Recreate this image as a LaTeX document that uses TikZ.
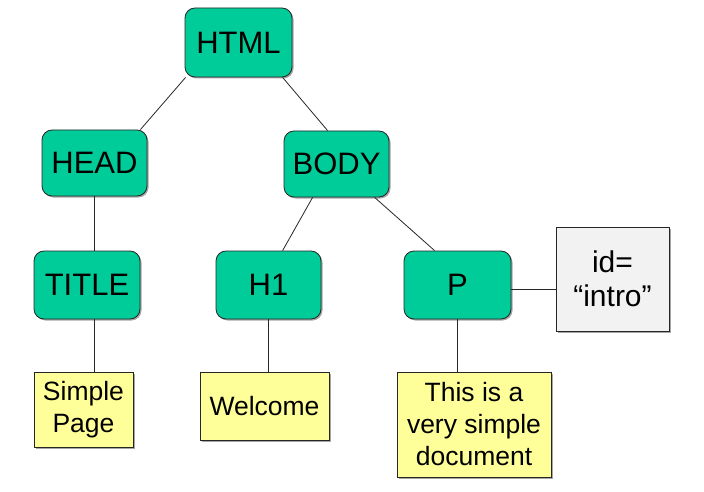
\documentclass[tikz,border=0pt]{standalone}
\usepackage{fontspec}
\setmainfont{Liberation Sans}
\usetikzlibrary{calc,shadows}
\definecolor{nodegreen}{HTML}{00CC99}
\definecolor{noteyellow}{HTML}{FFFF99}
\definecolor{attrgray}{HTML}{F2F2F2}
\begin{document}
\begin{tikzpicture}[x=1pt,y=-1pt,
  shadowed/.style={drop shadow={shadow xshift=1.5pt,shadow yshift=-1.5pt,fill=black,opacity=0.35}},
  elem/.style={draw=black!85,line width=0.8pt,fill=nodegreen,rounded corners=10pt,shadowed,
    inner sep=0pt,font=\fontsize{31}{36}\selectfont},
  note/.style={draw=black!85,line width=0.8pt,fill=noteyellow,shadowed,inner sep=0pt,align=center,
    font=\fontsize{26.5}{32}\selectfont},
  attr/.style={draw=black!85,line width=0.8pt,fill=attrgray,shadowed,inner sep=0pt,align=center,
    font=\fontsize{30}{34}\selectfont},
  link/.style={draw=black!85,line width=0.8pt}]
\path[use as bounding box] (0,0) rectangle (704,492);
\node[elem,minimum width=107pt,minimum height=69pt] (html) at (238.5,42.5) {HTML};
\node[elem,minimum width=105pt,minimum height=66pt] (head) at (94.5,163) {HEAD};
\node[elem,minimum width=105pt,minimum height=66pt] (body) at (336.5,164) {BODY};
\node[elem,minimum width=106pt,minimum height=68pt] (title) at (87,285) {TITLE};
\node[elem,minimum width=105pt,minimum height=68pt] (h1) at (268.5,285) {H1};
\node[elem,minimum width=107pt,minimum height=68pt] (p) at (457.5,285) {P};
\node[attr,minimum width=113pt,minimum height=104pt] (id) at (612.5,279) {id=\\“intro”};
\node[note,minimum width=99pt,minimum height=75pt] (simple) at (83.5,409.5) {Simple\\Page};
\node[note,minimum width=129pt,minimum height=68pt] (welcome) at (264.5,406) {Welcome};
\node[note,minimum width=154pt,minimum height=105pt] (doc) at (474,424.5) {This is a\\very simple\\document};
% connectors
\draw[link] ($(html.south west)+(1,0)$) -- ($(head.north east)+(-7,0)$);
\draw[link] ($(html.south west)+(98,0)$) -- ($(body.north west)+(44,0)$);
\draw[link] (head.south) -- (head.south |- title.north);
\draw[link] (head.south |- title.south) -- (head.south |- simple.north);
\draw[link] ($(body.south west)+(29,0)$) -- ($(h1.north west)+(67,0)$);
\draw[link] ($(body.south west)+(91,0)$) -- ($(p.north west)+(31,0)$);
\draw[link] (h1.south) -- (h1.south |- welcome.north);
\draw[link] (p.south) -- (p.south |- doc.north);
\draw[link] ($(p.east)+(0,4)$) -- ($(p.east -| id.west)+(0,4)$);
\end{tikzpicture}
\end{document}
